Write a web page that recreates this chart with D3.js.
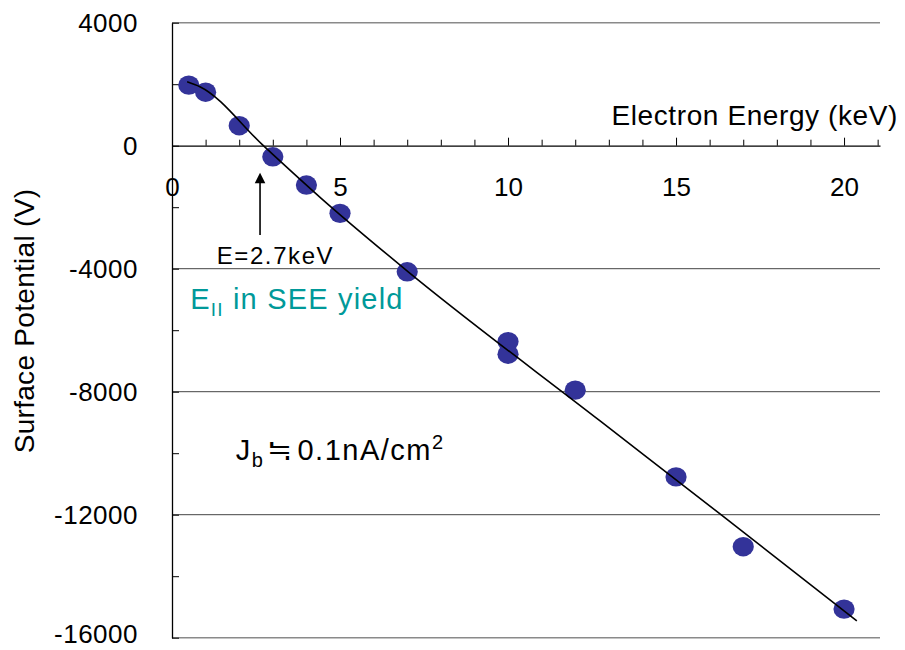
<!DOCTYPE html>
<html>
<head>
<meta charset="utf-8">
<script src="https://cdn.jsdelivr.net/npm/d3@7"></script>
<style>
  body { margin: 0; background: #fff; }
  svg { display: block; }
  text { font-family: "Liberation Sans", Arial, sans-serif; }
</style>
</head>
<body>
<svg id="chart" width="905" height="650"></svg>
<script>
// measured points
const energy = [0.5, 1, 2, 3, 4, 5, 7, 10, 10, 12, 15, 17, 20];
const potential = [1970, 1740, 650, -360, -1280, -2200, -4100, -6370, -6780, -7950, -10770, -13040, -15070];

// fitted curve
const fitEnergy = [0.45, 0.83, 2.72, 4.44, 7.03, 12.74, 16.28, 20.38];
const fitPotential = [2080, 1920, 0, -1710, -4100, -8950, -11950, -15450];

const xTicks = d3.range(0, 22);
const xTickLabels = [0, 5, 10, 15, 20];
const yTicks = d3.range(-16000, 4001, 2000);
const yTickLabels = [4000, 0, -4000, -8000, -12000, -16000];
const gridValues = [-4000, -8000, -12000];

const svg = d3.select("#chart");

const x = d3.scaleLinear().domain([0, 21.07]).range([172, 880]);
const y = d3.scaleLinear().domain([-16000, 4000]).range([637.7, 22.7]);

// plot border top / bottom
svg.append("g")
  .selectAll("line")
  .data([4000, -16000])
  .join("line")
  .attr("x1", x(0)).attr("x2", x.range()[1])
  .attr("y1", d => y(d)).attr("y2", d => y(d))
  .attr("stroke", "#8a8a8a")
  .attr("stroke-width", 1.6);

// gridlines
svg.append("g")
  .selectAll("line")
  .data(gridValues)
  .join("line")
  .attr("x1", x(0)).attr("x2", x.range()[1])
  .attr("y1", d => y(d)).attr("y2", d => y(d))
  .attr("stroke", "#444")
  .attr("stroke-width", 1);

// x axis sits at V = 0, ticks pointing up
const xAxis = svg.append("g")
  .attr("transform", "translate(0," + y(0) + ")")
  .call(d3.axisTop(x).tickValues(xTicks).tickSize(6).tickSizeOuter(0).tickFormat(""));
xAxis.select(".domain").attr("stroke", "#000").attr("stroke-width", 1.3);
xAxis.selectAll(".tick line")
  .attr("stroke", "#000")
  .attr("y2", d => d % 5 === 0 ? -8 : -6);

svg.append("g")
  .attr("transform", "translate(0," + y(0) + ")")
  .call(d3.axisBottom(x).tickValues(xTickLabels).tickSize(0).tickPadding(31.5))
  .call(g => g.select(".domain").remove())
  .selectAll("text")
  .attr("fill", "#000")
  .attr("font-size", 26)
  .attr("font-family", "Liberation Sans, Arial, sans-serif");

// y axis with inside ticks
const yAxis = svg.append("g")
  .attr("transform", "translate(" + x(0) + ",0)")
  .call(d3.axisRight(y).tickValues(yTicks).tickSize(7).tickSizeOuter(0).tickFormat(""));
yAxis.select(".domain").attr("stroke", "#000").attr("stroke-width", 1.3);
yAxis.selectAll(".tick line").attr("stroke", "#000");

svg.append("g")
  .attr("transform", "translate(" + x(0) + ",0)")
  .call(d3.axisLeft(y).tickValues(yTickLabels).tickSize(0).tickPadding(34).tickFormat(d => String(d)))
  .call(g => g.select(".domain").remove())
  .selectAll("text")
  .attr("fill", "#000")
  .attr("font-size", 26)
  .attr("letter-spacing", 0.5)
  .attr("dy", d => d === -16000 ? "0.2em" : "0.32em")
  .attr("font-family", "Liberation Sans, Arial, sans-serif");

// axis titles
svg.append("text")
  .attr("x", 898).attr("y", 125)
  .attr("text-anchor", "end")
  .attr("font-size", 28)
  .attr("letter-spacing", 0.6)
  .text("Electron Energy (keV)");

svg.append("text")
  .attr("transform", "translate(34,321) rotate(-90)")
  .attr("text-anchor", "middle")
  .attr("font-size", 28)
  .attr("letter-spacing", 0.3)
  .text("Surface Potential (V)");

// points
const points = energy.map((e, i) => ({ e: e, v: potential[i] }));
svg.append("g")
  .selectAll("ellipse")
  .data(points)
  .join("ellipse")
  .attr("cx", d => x(d.e))
  .attr("cy", d => y(d.v))
  .attr("rx", 10.6)
  .attr("ry", 9.7)
  .attr("fill", "#333399");

// fitted line on top
const fit = fitEnergy.map((e, i) => [e, fitPotential[i]]);
svg.append("path")
  .datum(fit)
  .attr("fill", "none")
  .attr("stroke", "#000")
  .attr("stroke-width", 1.6)
  .attr("d", d3.line().x(d => x(d[0])).y(d => y(d[1])).curve(d3.curveMonotoneX));

// annotation: arrow to the crossover energy
const arrowE = 2.62, arrowTop = -880, arrowBottom = -2900;
svg.append("line")
  .attr("x1", x(arrowE)).attr("x2", x(arrowE))
  .attr("y1", y(arrowBottom)).attr("y2", y(arrowTop) + 8)
  .attr("stroke", "#000").attr("stroke-width", 1.6);
svg.append("path")
  .attr("d", "M" + x(arrowE) + "," + y(arrowTop) +
             " l-5.3,10.5 l10.6,0 Z")
  .attr("fill", "#000");

svg.append("text")
  .attr("x", x(1.33)).attr("y", y(-3860))
  .attr("font-size", 24)
  .attr("letter-spacing", 1.6)
  .text("E=2.7keV");

const eLabel = svg.append("text")
  .attr("x", x(0.54)).attr("y", y(-5310))
  .attr("font-size", 29)
  .attr("fill", "#009999")
  .attr("letter-spacing", 1.2);
eLabel.append("tspan").text("E");
eLabel.append("tspan").attr("font-size", 19).attr("dy", 7).text("II");
eLabel.append("tspan").attr("dy", -7).text(" in SEE yield");

const jLabel = svg.append("text")
  .attr("x", x(1.9)).attr("y", y(-10220))
  .attr("font-size", 29)
  .attr("fill", "#000")
  .attr("letter-spacing", 1.5);
jLabel.append("tspan").text("J");
jLabel.append("tspan").attr("font-size", 20).attr("dy", 7).text("b");
jLabel.append("tspan").attr("dy", -7).attr("dx", 3).attr("font-size", 30)
  .attr("font-family", "Noto Sans CJK JP").attr("letter-spacing", 0).text("\u2252");
jLabel.append("tspan").attr("dx", 5).text("0.1nA/cm");
jLabel.append("tspan").attr("font-size", 20).attr("dy", -11).text("2");
</script>
</body>
</html>
